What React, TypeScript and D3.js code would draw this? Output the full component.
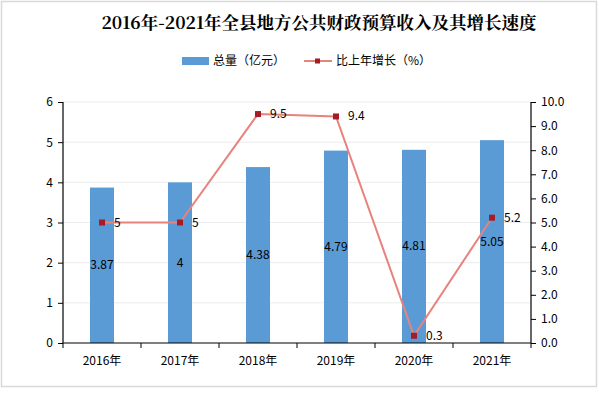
import React, { useEffect, useRef } from "react";
import * as d3 from "d3";

const years = ["2016年", "2017年", "2018年", "2019年", "2020年", "2021年"];
const totals = [3.87, 4, 4.38, 4.79, 4.81, 5.05];
const growth = [5, 5, 9.5, 9.4, 0.3, 5.2];
const leftTicks = [0, 1, 2, 3, 4, 5, 6];
const rightTicks = [0, 1, 2, 3, 4, 5, 6, 7, 8, 9, 10];

const FONT = "'Noto Sans CJK SC', 'DejaVu Sans', sans-serif";

export default function App() {
  const ref = useRef<SVGSVGElement>(null);

  useEffect(() => {
    const width = 599;
    const height = 396;
    const margin = { top: 102, right: 68, bottom: 53, left: 63 };
    const innerW = width - margin.left - margin.right;
    const innerH = height - margin.top - margin.bottom;

    const svg = d3.select(ref.current);
    svg.selectAll("*").remove();

    svg.append("rect")
      .attr("x", 1.5).attr("y", 1.5)
      .attr("width", 595).attr("height", 385)
      .attr("fill", "#fff").attr("stroke", "#d9d9d9").attr("stroke-width", 1.5);

    svg.append("text")
      .attr("x", 319).attr("y", 29)
      .attr("text-anchor", "middle")
      .attr("font-family", "'Noto Serif CJK SC', 'DejaVu Serif', serif")
      .attr("font-weight", "bold").attr("font-size", 17.5)
      .attr("fill", "#000")
      .text("2016年-2021年全县地方公共财政预算收入及其增长速度");

    // legend
    const lg = svg.append("g").attr("font-family", FONT).attr("font-size", 12).attr("fill", "#000");
    lg.append("rect").attr("x", 182).attr("y", 57).attr("width", 27).attr("height", 8).attr("fill", "#5b9bd5");
    lg.append("text").attr("x", 213).attr("y", 65).text("总量（亿元）");
    lg.append("line").attr("x1", 304).attr("x2", 332).attr("y1", 61).attr("y2", 61)
      .attr("stroke", "#e8827c").attr("stroke-width", 2);
    lg.append("rect").attr("x", 315).attr("y", 58.5).attr("width", 5).attr("height", 5).attr("fill", "#a51d24");
    lg.append("text").attr("x", 336).attr("y", 65).text("比上年增长（%）");

    const g = svg.append("g").attr("transform", `translate(${margin.left},${margin.top})`);

    const x = d3.scaleBand().domain(years).range([0, innerW]);
    const yL = d3.scaleLinear().domain([0, 6]).range([innerH, 0]);
    const yR = d3.scaleLinear().domain([0, 10]).range([innerH, 0]);

    // gridlines
    g.selectAll(".grid").data(leftTicks.slice(1)).join("line")
      .attr("x1", 0).attr("x2", innerW)
      .attr("y1", d => yL(d)).attr("y2", d => yL(d))
      .attr("stroke", "#ececec").attr("stroke-width", 1);

    // bars
    const bw = 24;
    g.selectAll(".bar").data(totals).join("rect")
      .attr("x", (d, i) => x(years[i])! + x.bandwidth() / 2 - bw / 2)
      .attr("y", d => yL(d))
      .attr("width", bw)
      .attr("height", d => innerH - yL(d))
      .attr("fill", "#5b9bd5");

    g.selectAll(".barlabel").data(totals).join("text")
      .attr("x", (d, i) => x(years[i])! + x.bandwidth() / 2)
      .attr("y", d => (yL(d) + innerH) / 2 + 4)
      .attr("text-anchor", "middle")
      .attr("font-family", FONT).attr("font-size", 12).attr("fill", "#000")
      .text(d => String(d));

    // axes
    const axL = g.append("g").call(d3.axisLeft(yL).tickValues(leftTicks).tickSize(5).tickPadding(5).tickFormat(d3.format("d")));
    const axR = g.append("g").attr("transform", `translate(${innerW},0)`)
      .call(d3.axisRight(yR).tickValues(rightTicks).tickSize(5).tickPadding(5).tickFormat(d3.format(".1f")));
    const axB = g.append("g").attr("transform", `translate(0,${innerH})`)
      .call(d3.axisBottom(x).tickSize(0).tickPadding(13));
    // category boundary ticks
    g.selectAll(".btick").data(d3.range(years.length + 1)).join("line")
      .attr("x1", i => i * x.step()).attr("x2", i => i * x.step())
      .attr("y1", innerH).attr("y2", innerH + 5)
      .attr("stroke", "#000");

    [axL, axR, axB].forEach(a => {
      a.selectAll("path").attr("stroke", "#000").attr("stroke-width", 1.2);
      a.selectAll("line").attr("stroke", "#000");
      a.selectAll("text").attr("font-family", FONT).attr("font-size", 12).attr("fill", "#000");
    });
    axL.select(".domain").attr("d", `M0,0V${innerH}`);
    axR.select(".domain").attr("d", `M0,0V${innerH}`);
    axB.select(".domain").attr("d", `M0,0H${innerW}`);

    // line series
    const cx = (i: number) => x(years[i])! + x.bandwidth() / 2;
    const line = d3.line<number>().x((d, i) => cx(i)).y(d => yR(d));
    g.append("path").datum(growth).attr("d", line)
      .attr("fill", "none").attr("stroke", "#e8827c").attr("stroke-width", 2);

    g.selectAll(".marker").data(growth).join("rect")
      .attr("x", (d, i) => cx(i) - 3).attr("y", d => yR(d) - 3)
      .attr("width", 6).attr("height", 6)
      .attr("fill", "#a51d24");

    g.selectAll(".linelabel").data(growth).join("text")
      .attr("x", (d, i) => cx(i) + 12)
      .attr("y", d => yR(d) + 4)
      .attr("font-family", FONT).attr("font-size", 12).attr("fill", "#000")
      .text(d => String(d));
  }, []);

  return (
    <svg ref={ref} width={599} height={396} style={{ position: "absolute", left: 0, top: 0 }} />
  );
}
